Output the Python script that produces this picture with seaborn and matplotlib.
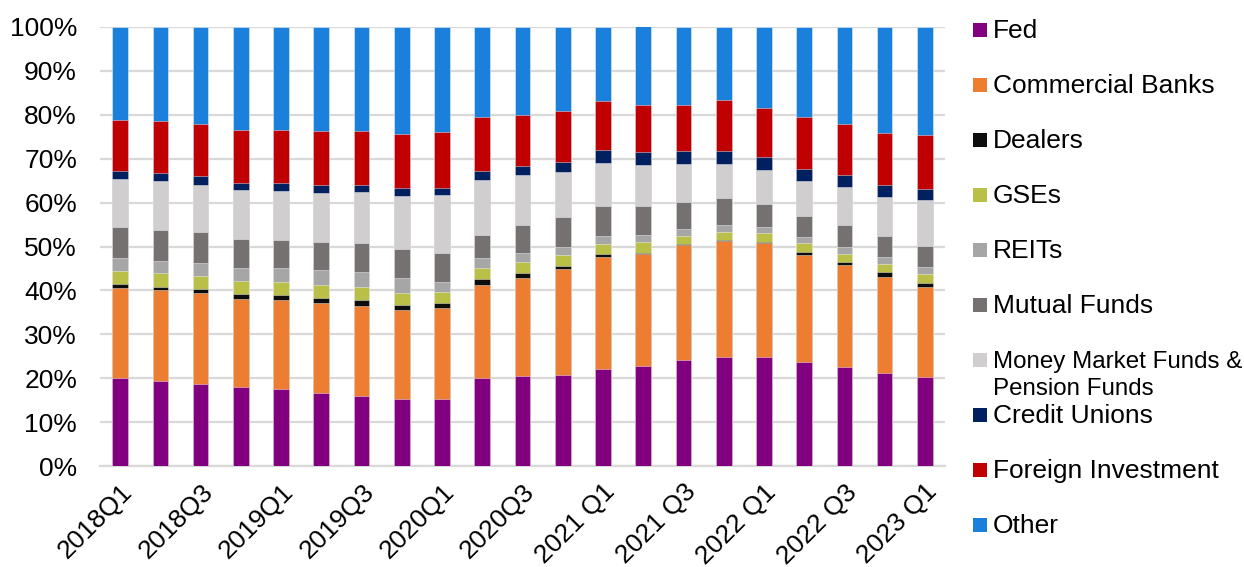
import numpy as np
import pandas as pd
import matplotlib
matplotlib.use("Agg")
import matplotlib.pyplot as plt
import matplotlib.transforms as mtransforms
from matplotlib.patches import Rectangle
import seaborn as sns

quarters = ["2018Q1", "2018Q2", "2018Q3", "2018Q4", "2019Q1", "2019Q2", "2019Q3",
            "2019Q4", "2020Q1", "2020Q2", "2020Q3", "2020Q4", "2021Q1", "2021Q2",
            "2021Q3", "2021Q4", "2022Q1", "2022Q2", "2022Q3", "2022Q4", "2023Q1"]
tick_labels = ["2018Q1", "2018Q3", "2019Q1", "2019Q3", "2020Q1", "2020Q3",
               "2021 Q1", "2021 Q3", "2022 Q1", "2022 Q3", "2023 Q1"]

fed = [20.0, 19.4, 18.7, 18.1, 17.6, 16.7, 15.9, 15.2, 15.2, 20.1, 20.6,
       20.8, 22.0, 22.7, 24.1, 24.8, 24.8, 23.7, 22.5, 21.1, 20.2]
commercial_banks = [20.6, 20.6, 20.6, 20.0, 20.3, 20.5, 20.5, 20.4, 20.7, 21.2, 22.3,
                    24.0, 25.6, 25.7, 26.2, 26.5, 26.0, 24.4, 23.3, 22.0, 20.5]
dealers = [0.9, 0.8, 1.1, 1.0, 1.0, 1.1, 1.4, 1.0, 1.2, 1.3, 1.0,
           0.8, 0.7, 0.2, 0.2, 0.1, 0.2, 0.6, 0.6, 1.0, 1.0]
gses = [3.0, 3.1, 2.8, 3.0, 2.9, 2.9, 2.9, 2.7, 2.6, 2.6, 2.5,
        2.4, 2.2, 2.4, 1.9, 1.9, 2.0, 2.0, 2.0, 2.0, 2.0]
reits = [2.9, 2.8, 3.0, 3.1, 3.3, 3.4, 3.5, 3.6, 2.2, 2.1, 2.2,
         2.0, 2.0, 1.7, 1.5, 1.6, 1.4, 1.5, 1.4, 1.5, 1.6]
mutual_funds = [7.0, 7.0, 7.1, 6.5, 6.3, 6.5, 6.6, 6.6, 6.6, 5.4, 6.3,
                6.7, 6.8, 6.6, 6.3, 6.2, 5.2, 4.8, 5.1, 4.8, 4.9]
mmf_pension = [10.9, 11.2, 10.8, 11.2, 11.3, 11.2, 11.6, 12.0, 13.3, 12.5, 11.3,
               10.3, 9.7, 9.3, 8.5, 7.7, 7.9, 7.9, 8.7, 8.8, 10.4]
credit_unions = [1.9, 1.8, 1.9, 1.6, 1.7, 1.7, 1.6, 1.9, 1.6, 1.9, 2.2,
                 2.3, 3.0, 2.9, 3.0, 2.9, 2.8, 2.8, 2.8, 2.7, 2.4]
foreign = [11.7, 11.9, 11.8, 12.1, 12.2, 12.2, 12.3, 12.2, 12.7, 12.3, 11.6,
           11.6, 11.2, 10.7, 10.5, 11.7, 11.2, 11.8, 11.4, 12.0, 12.3]
other = [21.1, 21.4, 22.2, 23.4, 23.4, 23.8, 23.7, 24.4, 23.9, 20.6, 20.0,
         19.1, 16.8, 18.1, 17.8, 16.6, 18.5, 20.5, 22.2, 24.1, 24.7]

series_names = ["Fed", "Commercial Banks", "Dealers", "GSEs", "REITs", "Mutual Funds",
                "Money Market Funds &\nPension Funds", "Credit Unions",
                "Foreign Investment", "Other"]
series_values = [fed, commercial_banks, dealers, gses, reits, mutual_funds,
                 mmf_pension, credit_unions, foreign, other]
colors = ["#800080", "#ED7D31", "#0D0D0D", "#B9BF47", "#A6A6A6", "#767171",
          "#D0CECE", "#002060", "#C00000", "#1A80DC"]

df = pd.DataFrame({n: v for n, v in zip(series_names, series_values)}, index=quarters)
cum = df.cumsum(axis=1)

sns.set_theme(style="white")
plt.rcParams["font.family"] = ["Liberation Sans", "DejaVu Sans"]

FS = 19
fig = plt.figure(figsize=(12.44, 5.67), dpi=100)
ax = fig.add_axes([100 / 1244, 1 - 466 / 567, 845 / 1244, 439 / 567])

# draw from top-most cumulative down so lower segments overlay
for name, col in reversed(list(zip(series_names, colors))):
    sns.barplot(x=quarters, y=cum[name].values, color=col, saturation=1,
                width=0.39, ax=ax, edgecolor=(1, 1, 1, 0.5), linewidth=0.6,
                errorbar=None, zorder=3)

ax.set_xlim(-0.5, 20.5)
ax.set_ylim(0, 100)
ax.set_yticks(np.arange(0, 101, 10))
ax.set_yticklabels([f"{v}%" for v in range(0, 101, 10)], fontsize=FS, color="#000000")
ax.set_xticks(np.arange(0, 21, 2))
ax.set_xticklabels(tick_labels, fontsize=FS, rotation=45, ha="right", va="top",
                   rotation_mode="anchor", color="#000000")
offset = mtransforms.ScaledTranslation(3 / 100, 0, fig.dpi_scale_trans)
for lab in ax.get_xticklabels():
    lab.set_transform(lab.get_transform() + offset)
ax.tick_params(axis="both", length=0)
ax.tick_params(axis="y", pad=16.5)
ax.tick_params(axis="x", pad=10)
ax.set_xlabel("")
ax.set_ylabel("")
ax.grid(axis="y", color="#D9D9D9", linewidth=1.6, zorder=0)
ax.set_axisbelow(True)
for s in ["top", "right", "left"]:
    ax.spines[s].set_visible(False)
ax.spines["bottom"].set_color("#D9D9D9")
ax.spines["bottom"].set_linewidth(1.6)

# legend (top to bottom: Fed ... Other)
for i, (name, col) in enumerate(zip(series_names, colors)):
    yc = 29.7 + 55 * i
    fig.patches.append(Rectangle((973 / 1244, 1 - (yc + 7) / 567), 14 / 1244, 14 / 567,
                                 transform=fig.transFigure, facecolor=col,
                                 edgecolor="none"))
    lines = name.split("\n")
    fs = FS if len(lines) == 1 else 17.4
    for j, line in enumerate(lines):
        fig.text(993 / 1244, 1 - (yc + 8.5 + 26.5 * j) / 567, line, fontsize=fs,
                 va="baseline", ha="left", color="#000000")

fig.savefig("out.png", dpi=100, facecolor="white")
